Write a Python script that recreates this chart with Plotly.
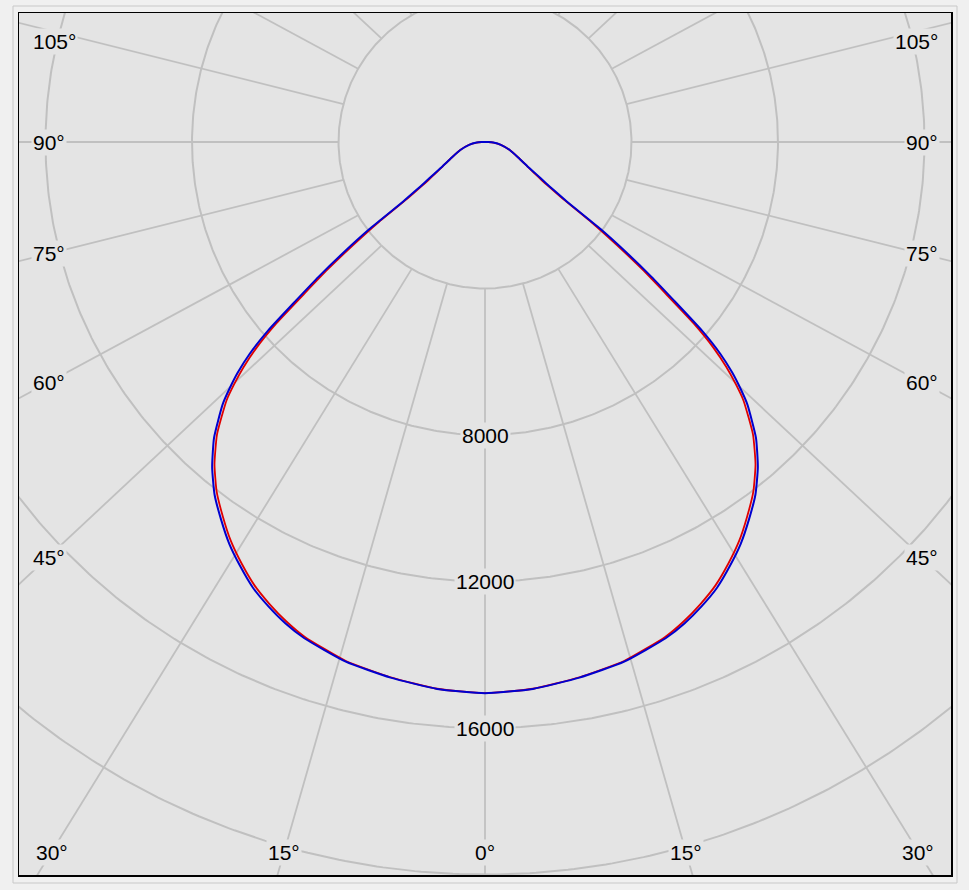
import numpy as np
import plotly.graph_objects as go

# ---------------- data ----------------
gamma_deg = [0, 5, 10, 15, 20, 22.5, 25, 27.5, 30, 32.5, 35, 37.5, 40, 42.5, 45, 46, 47, 48,
             49, 50, 51, 52, 53, 54, 55, 56, 58, 60, 65, 72, 80, 86, 90, 95, 100, 110, 120,
             135, 150, 165, 180]
blue_cd = [15050, 14990, 14850, 14690, 14420, 14230, 13990, 13720, 13370, 13000, 12570, 12130,
           11590, 10950, 10130, 9700, 9230, 8650, 7850, 6750, 5850, 4900, 3950, 2750, 2300,
           2000, 1630, 1360, 1000, 710, 440, 230, 90, 30, 5, 0, 0, 0, 0, 0, 0]
red_cd = [15050, 14985, 14840, 14670, 14380, 14170, 13920, 13640, 13290, 12915, 12480, 12035,
          11490, 10830, 9980, 9520, 9010, 8390, 7550, 6430, 5520, 4570, 3650, 2550, 2150,
          1880, 1560, 1340, 1000, 710, 440, 230, 90, 30, 5, 0, 0, 0, 0, 0, 0]

ring_values = [4000, 8000, 12000, 16000, 20000, 24000]
ring_label_values = [8000, 12000, 16000]
spoke_angles = [0, 15, 30, 45, 60, 75, 90, 105, 120, 135, 150, 165, 180]
side_label_angles = [45, 60, 75, 90, 105]
bottom_label_angles = [0, 15, 30]

# ---------------- layout constants ----------------
W, H = 969, 890
ML, MR, MT, MB = 19, 18, 13, 15
PW, PH = W - ML - MR, H - MT - MB
CX_PX, CY_PX = 485 - ML, 142 - MT          # polar centre inside plot area (px)
CD_PER_PX = 4000 / 146.5
X0 = -CX_PX * CD_PER_PX
X1 = (PW - CX_PX) * CD_PER_PX
Y1 = CY_PX * CD_PER_PX
Y0 = -(PH - CY_PX) * CD_PER_PX

GRID = "#c0c0c0"
PLOT_BG = "#e4e4e4"
PAPER_BG = "#f0f0f0"
FONT = dict(family="Liberation Sans, Arial, sans-serif", size=21, color="#000000")
SPOKE_STRETCH = 1.07
R_START = ring_values[0]

fig = go.Figure()

# rings
t = np.linspace(0, 2 * np.pi, 721)
for R in ring_values:
    fig.add_trace(go.Scatter(x=R * np.sin(t), y=R * np.cos(t), mode="lines",
                             line=dict(color=GRID, width=2), hoverinfo="skip"))


def spoke_point(theta_deg, side, s):
    th = np.radians(theta_deg)
    ax, ay = side * R_START * np.sin(th), -R_START * np.cos(th)
    dx, dy = side * SPOKE_STRETCH * np.sin(th), -np.cos(th)
    return ax + s * dx, ay + s * dy, (ax, ay, dx, dy)


# spokes
for th in spoke_angles:
    sides = [1] if th in (0, 180) else [-1, 1]
    for sd in sides:
        x0, y0, _ = spoke_point(th, sd, 0)
        x1, y1, _ = spoke_point(th, sd, 40000)
        fig.add_trace(go.Scatter(x=[x0, x1], y=[y0, y1], mode="lines",
                                 line=dict(color=GRID, width=1.8), hoverinfo="skip"))


def curve_xy(values):
    g = np.radians(np.array(gamma_deg, dtype=float))
    r = np.array(values, dtype=float)
    xl, yl = -r * np.sin(g), -r * np.cos(g)
    xr, yr = r * np.sin(g), -r * np.cos(g)
    x = np.concatenate([xl[::-1], xr[1:]])
    y = np.concatenate([yl[::-1], yr[1:]])
    return x, y


xr_, yr_ = curve_xy(red_cd)
fig.add_trace(go.Scatter(x=xr_, y=yr_, mode="lines",
                         line=dict(color="#e00000", width=1.8, shape="spline", smoothing=0.5),
                         name="C0-C180"))
xb_, yb_ = curve_xy(blue_cd)
fig.add_trace(go.Scatter(x=xb_, y=yb_, mode="lines",
                         line=dict(color="#0000d0", width=2, shape="spline", smoothing=0.5),
                         name="C90-C270"))

annotations = []
# radial value labels
for v in ring_label_values:
    annotations.append(dict(x=0, y=-v, text=str(v), showarrow=False, font=FONT,
                            bgcolor=PLOT_BG, borderpad=1, xanchor="center", yanchor="middle"))

# side angle labels: placed where each spoke crosses near the frame edges
x_probe = X0 + 29 * CD_PER_PX
y_top_limit = Y1 - 28 * CD_PER_PX
for th in side_label_angles:
    _, _, (ax, ay, dx, dy) = spoke_point(th, -1, 0)
    s = (x_probe - ax) / dx
    y = min(ay + s * dy, y_top_limit)
    annotations.append(dict(x=X0 + 12 * CD_PER_PX, y=y, text=f"{th}°", showarrow=False,
                            font=FONT, bgcolor=PLOT_BG, borderpad=1,
                            xanchor="left", yanchor="middle"))
    annotations.append(dict(x=X1 - 11 * CD_PER_PX, y=y, text=f"{th}°", showarrow=False,
                            font=FONT, bgcolor=PLOT_BG, borderpad=1,
                            xanchor="right", yanchor="middle"))

# bottom angle labels
y_probe = Y0 + 23 * CD_PER_PX
for th in bottom_label_angles:
    for sd in ([1] if th == 0 else [-1, 1]):
        _, _, (ax, ay, dx, dy) = spoke_point(th, sd, 0)
        s = (y_probe - ay) / dy
        x = ax + s * dx
        annotations.append(dict(x=x, y=y_probe, text=f"{th}°", showarrow=False, font=FONT,
                                bgcolor=PLOT_BG, borderpad=1,
                                xanchor="center", yanchor="middle"))

fig.update_layout(
    width=W, height=H,
    margin=dict(l=ML, r=MR, t=MT, b=MB),
    paper_bgcolor=PAPER_BG, plot_bgcolor=PLOT_BG,
    showlegend=False, hovermode=False,
    annotations=annotations,
    xaxis=dict(range=[X0, X1], showgrid=False, zeroline=False, showticklabels=False,
               ticks="", showline=True, linecolor="#000000", linewidth=1.5, mirror=True,
               fixedrange=True),
    yaxis=dict(range=[Y0, Y1], showgrid=False, zeroline=False, showticklabels=False,
               ticks="", showline=True, linecolor="#000000", linewidth=1.5, mirror=True,
               fixedrange=True),
    shapes=[dict(type="rect", xref="paper", yref="paper",
                 x0=(13 - ML) / PW, x1=(957 - ML) / PW,
                 y0=-(883 - (H - MB)) / PH, y1=1 + (MT - 6) / PH,
                 line=dict(color="#c8c8c8", width=1), layer="below")],
)

fig.write_html(
    "out.html",
    config={"displayModeBar": False, "staticPlot": True},
    post_script="document.body.style.margin='0';document.body.style.overflow='hidden';",
)
